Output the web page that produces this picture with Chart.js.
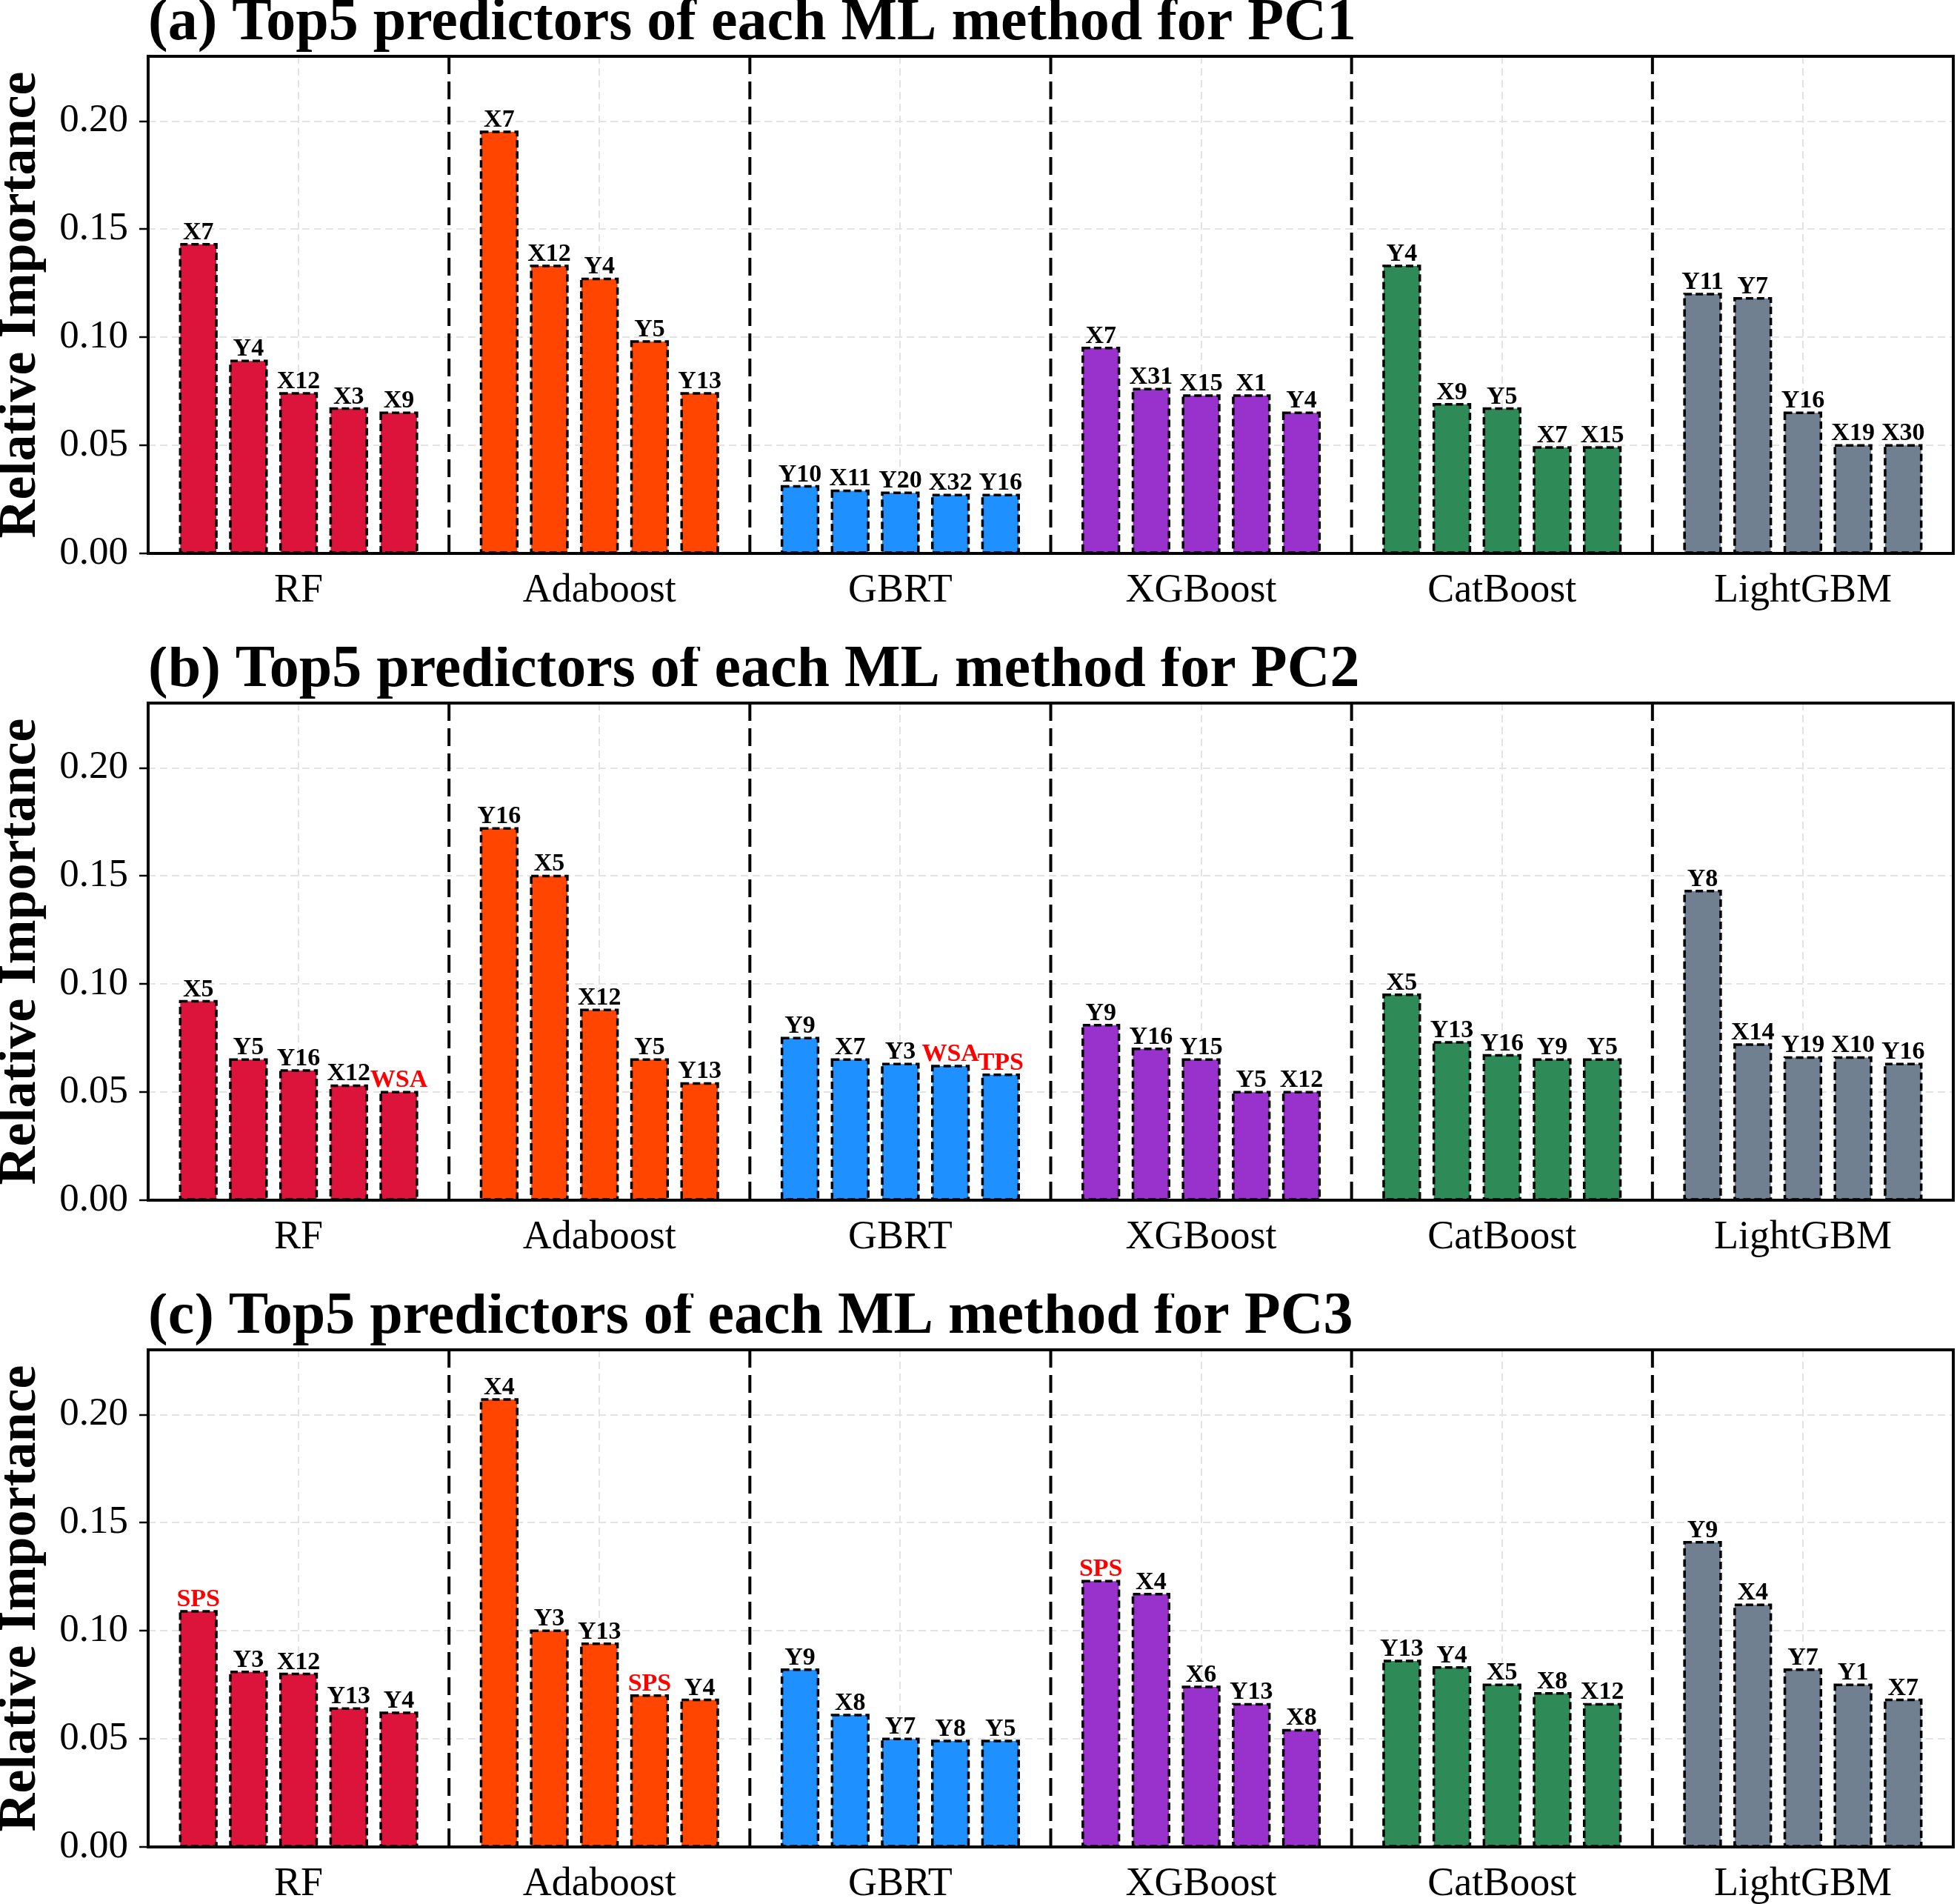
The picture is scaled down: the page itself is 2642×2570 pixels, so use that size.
<!DOCTYPE html>
<html>
<head>
<meta charset="utf-8">
<script src="https://cdn.jsdelivr.net/npm/chart.js@4.4.1/dist/chart.umd.min.js"></script>
<style>
  body { margin: 0; background: #fff; }
  .panel { position: absolute; left: 0; width: 2642px; height: 824px; }
</style>
</head>
<body>
<div class="panel" style="top:0px"><canvas id="pc1" width="2642" height="824"></canvas></div>
<div class="panel" style="top:873px"><canvas id="pc2" width="2642" height="824"></canvas></div>
<div class="panel" style="top:1746px"><canvas id="pc3" width="2642" height="824"></canvas></div>
<script>
const methods = ['RF', 'Adaboost', 'GBRT', 'XGBoost', 'CatBoost', 'LightGBM'];
const methodColors = ['#DC143C', '#FF4500', '#1E90FF', '#9932CC', '#2E8B57', '#708090'];
const panelTitles = [
  '(a) Top5 predictors of each ML method for PC1',
  '(b) Top5 predictors of each ML method for PC2',
  '(c) Top5 predictors of each ML method for PC3'
];
const highlightNames = ['WSA', 'TPS', 'SPS']; // drawn in red

const pc1Names = [
  ['X7', 'Y4', 'X12', 'X3', 'X9'],
  ['X7', 'X12', 'Y4', 'Y5', 'Y13'],
  ['Y10', 'X11', 'Y20', 'X32', 'Y16'],
  ['X7', 'X31', 'X15', 'X1', 'Y4'],
  ['Y4', 'X9', 'Y5', 'X7', 'X15'],
  ['Y11', 'Y7', 'Y16', 'X19', 'X30']
];
const pc1Values = [
  [0.143, 0.089, 0.074, 0.067, 0.065],
  [0.195, 0.133, 0.127, 0.098, 0.074],
  [0.031, 0.029, 0.028, 0.027, 0.027],
  [0.095, 0.076, 0.073, 0.073, 0.065],
  [0.133, 0.069, 0.067, 0.049, 0.049],
  [0.120, 0.118, 0.065, 0.050, 0.050]
];

const pc2Names = [
  ['X5', 'Y5', 'Y16', 'X12', 'WSA'],
  ['Y16', 'X5', 'X12', 'Y5', 'Y13'],
  ['Y9', 'X7', 'Y3', 'WSA', 'TPS'],
  ['Y9', 'Y16', 'Y15', 'Y5', 'X12'],
  ['X5', 'Y13', 'Y16', 'Y9', 'Y5'],
  ['Y8', 'X14', 'Y19', 'X10', 'Y16']
];
const pc2Values = [
  [0.092, 0.065, 0.060, 0.053, 0.050],
  [0.172, 0.150, 0.088, 0.065, 0.054],
  [0.075, 0.065, 0.063, 0.062, 0.058],
  [0.081, 0.070, 0.065, 0.050, 0.050],
  [0.095, 0.073, 0.067, 0.065, 0.065],
  [0.143, 0.072, 0.066, 0.066, 0.063]
];

const pc3Names = [
  ['SPS', 'Y3', 'X12', 'Y13', 'Y4'],
  ['X4', 'Y3', 'Y13', 'SPS', 'Y4'],
  ['Y9', 'X8', 'Y7', 'Y8', 'Y5'],
  ['SPS', 'X4', 'X6', 'Y13', 'X8'],
  ['Y13', 'Y4', 'X5', 'X8', 'X12'],
  ['Y9', 'X4', 'Y7', 'Y1', 'X7']
];
const pc3Values = [
  [0.109, 0.081, 0.080, 0.064, 0.062],
  [0.207, 0.100, 0.094, 0.070, 0.068],
  [0.082, 0.061, 0.050, 0.049, 0.049],
  [0.123, 0.117, 0.074, 0.066, 0.054],
  [0.086, 0.083, 0.075, 0.071, 0.066],
  [0.141, 0.112, 0.082, 0.075, 0.068]
];

const yMax = 0.23;
const yStep = 0.05;

const SERIF = '"Liberation Serif", "Times New Roman", serif';
const SLOTS = 6;              // 5 bars + one gap slot per method
const N = methods.length * SLOTS + 1;

// dashed frame, separators, dashed bar edges and name labels
const decorPlugin = {
  id: 'decor',
  beforeDatasetsDraw(chart) {
    const {ctx, chartArea, scales: {x}} = chart;
    ctx.save();
    ctx.strokeStyle = '#000';
    ctx.lineWidth = 4;
    ctx.setLineDash([24, 10]);
    for (let g = 1; g < methods.length; g++) {
      const px = x.getPixelForValue(g * SLOTS);
      ctx.beginPath();
      ctx.moveTo(px, chartArea.top);
      ctx.lineTo(px, chartArea.bottom);
      ctx.stroke();
    }
    ctx.restore();
  },
  afterDatasetsDraw(chart) {
    const {ctx} = chart;
    const names = chart.options.plugins.decor.names;
    const meta = chart.getDatasetMeta(0);
    ctx.save();
    meta.data.forEach((el, i) => {
      const v = chart.data.datasets[0].data[i];
      if (v === null) return;
      const g = Math.floor(i / SLOTS), k = i % SLOTS - 1;
      const left = el.x - el.width / 2;
      ctx.strokeStyle = '#000';
      ctx.lineWidth = 3.5;
      ctx.setLineDash([10, 5]);
      ctx.strokeRect(left, el.y, el.width, el.base - el.y);
      const name = names[g][k];
      ctx.setLineDash([]);
      ctx.fillStyle = highlightNames.includes(name) ? '#FF0000' : '#000';
      ctx.font = 'bold 34px ' + SERIF;
      ctx.textAlign = 'center';
      ctx.textBaseline = 'alphabetic';
      ctx.fillText(name, el.x, el.y - 7);
    });
    ctx.restore();
  },
  afterDraw(chart) {
    const {ctx, chartArea} = chart;
    ctx.save();
    ctx.strokeStyle = '#000';
    ctx.lineWidth = 4;
    ctx.strokeRect(chartArea.left, chartArea.top, chartArea.right - chartArea.left, chartArea.bottom - chartArea.top);
    ctx.restore();
  }
};

function buildPanel(id, title, names, values) {
  const labels = [];
  const data = [];
  const colors = [];
  for (let i = 0; i < N; i++) {
    const g = Math.floor(i / SLOTS), k = i % SLOTS - 1;
    labels.push(i % SLOTS === 3 && g < methods.length ? methods[g] : '');
    if (g < methods.length && k >= 0) {
      data.push(values[g][k]);
      colors.push(methodColors[g]);
    } else {
      data.push(null);
      colors.push('rgba(0,0,0,0)');
    }
  }

  new Chart(document.getElementById(id), {
    type: 'bar',
    data: {
      labels: labels,
      datasets: [{
        data: data,
        backgroundColor: colors,
        borderWidth: 0,
        categoryPercentage: 1,
        barPercentage: 0.72
      }]
    },
    options: {
      responsive: false,
      animation: false,
      devicePixelRatio: 1,
      layout: { padding: { left: 0, right: 5, top: 0, bottom: 0 } },
      plugins: {
        legend: { display: false },
        tooltip: { enabled: false },
        title: {
          display: true,
          text: title,
          align: 'start',
          fullSize: false,
          color: '#000',
          font: { family: SERIF, size: 80, weight: 'bold', lineHeight: 0.8 },
          padding: { top: 0, bottom: 12 }
        },
        decor: { names: names }
      },
      scales: {
        x: {
          offset: false,
          grid: {
            offset: false,
            drawTicks: true,
            tickLength: 14,
            tickColor: 'rgba(0,0,0,0)',
            lineWidth: 2,
            color: ctx => (ctx.index % SLOTS === 3 ? '#e3e3e3' : 'rgba(0,0,0,0)')
          },
          border: { display: false, dash: [10, 6] },
          ticks: {
            autoSkip: false,
            maxRotation: 0,
            padding: 4,
            color: '#000',
            font: { family: SERIF, size: 54 }
          },
          afterFit: s => { s.height = 77; }
        },
        y: {
          min: 0,
          max: yMax,
          grid: {
            lineWidth: 2,
            color: '#e3e3e3',
            drawTicks: true,
            tickLength: 12,
            tickWidth: 2.5,
            tickColor: '#000',
            tickBorderDash: []
          },
          border: { display: false, dash: [10, 6] },
          ticks: {
            stepSize: yStep,
            includeBounds: false,
            padding: 15,
            color: '#000',
            font: { family: SERIF, size: 53 },
            callback: v => v.toFixed(2)
          },
          title: {
            display: true,
            text: 'Relative Importance',
            color: '#000',
            padding: 0,
            font: { family: SERIF, size: 72, weight: 'bold', lineHeight: 0.8 }
          },
          afterFit: s => { s.width = 200; }
        }
      }
    },
    plugins: [decorPlugin]
  });
}

buildPanel('pc1', panelTitles[0], pc1Names, pc1Values);
buildPanel('pc2', panelTitles[1], pc2Names, pc2Values);
buildPanel('pc3', panelTitles[2], pc3Names, pc3Values);
</script>
</body>
</html>
